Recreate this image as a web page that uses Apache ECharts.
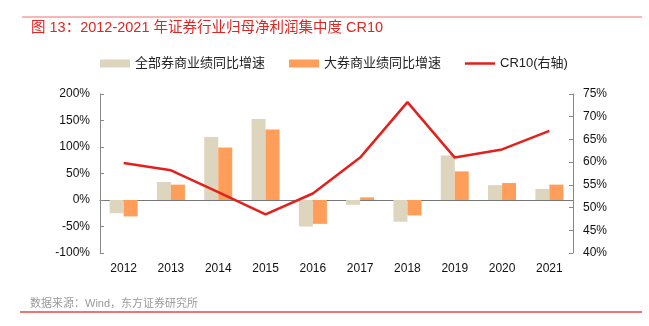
<!DOCTYPE html>
<html><head><meta charset="utf-8">
<script src="https://cdn.jsdelivr.net/npm/echarts@6/dist/echarts.min.js"></script>
<style>html,body{margin:0;padding:0;background:#fff}#c{width:649px;height:326px}</style>
</head><body><div id="c"></div>
<script>
const categories = ['2012','2013','2014','2015','2016','2017','2018','2019','2020','2021'];
const allBrokers = [-25, 34, 119, 153, -50, -9, -41, 84, 28, 21];
const bigBrokers = [-31, 29, 99, 133, -45, 5, -29, 54, 32, 29];
const cr10 = [59.8, 58.2, 53.4, 48.5, 53.1, 61.0, 73.2, 61.0, 62.8, 66.9];
const leftTicks = [-100, 200, 50];
const rightTicks = [40, 75, 5];

const font = '"Liberation Sans", Arial, "Noto Sans CJK SC", sans-serif';
const chart = echarts.init(document.getElementById('c'));
chart.setOption({
  animation: false,
  textStyle: { fontFamily: font },
  graphic: [
    { type: 'line', shape: { x1: 22, y1: 17, x2: 642, y2: 17 }, style: { stroke: '#f07070', lineWidth: 1 } },
    { type: 'text', left: 31, top: 21, style: { text: '图 13：2012-2021 年证券行业归母净利润集中度 CR10', fill: '#e3231f', font: '14.5px ' + font } },
    { type: 'text', left: 30, top: 298, style: { text: '数据来源：Wind，东方证券研究所', fill: '#9a9a9a', font: '11px ' + font } },
    { type: 'line', shape: { x1: 20, y1: 312, x2: 642, y2: 312 }, style: { stroke: '#e84545', lineWidth: 1.5 } }
  ],
  legend: {
    left: 95, top: 52, itemWidth: 30, itemHeight: 8, itemGap: 24,
    textStyle: { fontSize: 13, color: '#222', fontFamily: font },
    data: [
      { name: '全部券商业绩同比增速', icon: 'rect' },
      { name: '大券商业绩同比增速', icon: 'rect' },
      { name: 'CR10(右轴)', icon: 'path://M0,0 L30,0 L30,2.5 L0,2.5 Z', itemStyle: { color: '#e3211c' } }
    ]
  },
  grid: { left: 100, right: 76, top: 94, bottom: 73 },
  xAxis: [
    {
      type: 'category', data: categories,
      axisLine: { onZero: true, lineStyle: { color: '#777' } },
      axisTick: { inside: true, length: 4, lineStyle: { color: '#777' } },
      axisLabel: { show: false }
    },
    {
      type: 'category', data: categories, position: 'bottom',
      axisLine: { show: false }, axisTick: { show: false },
      axisLabel: { color: '#111', fontSize: 12, margin: 10 }
    }
  ],
  yAxis: [
    {
      type: 'value', min: leftTicks[0], max: leftTicks[1], interval: leftTicks[2],
      axisLine: { show: true, lineStyle: { color: '#888' } },
      axisTick: { show: true, inside: true, length: 4, lineStyle: { color: '#888' } },
      splitLine: { show: false },
      axisLabel: { color: '#111', fontSize: 12, margin: 10, formatter: v => v + '%' }
    },
    {
      type: 'value', min: rightTicks[0], max: rightTicks[1], interval: rightTicks[2],
      axisLine: { show: true, lineStyle: { color: '#888' } },
      axisTick: { show: true, inside: true, length: 4, lineStyle: { color: '#888' } },
      splitLine: { show: false },
      axisLabel: { color: '#111', fontSize: 12, margin: 10, formatter: v => v + '%' }
    }
  ],
  series: [
    { name: '全部券商业绩同比增速', type: 'bar', data: allBrokers, barWidth: 14, barGap: '0%', itemStyle: { color: '#ddd5bd' } },
    { name: '大券商业绩同比增速', type: 'bar', data: bigBrokers, barWidth: 14, barGap: '0%', itemStyle: { color: '#ff9e5a' } },
    { name: 'CR10(右轴)', type: 'line', yAxisIndex: 1, data: cr10, symbol: 'none', lineStyle: { color: '#e3211c', width: 2.5 }, itemStyle: { color: '#e3211c' } }
  ]
});
</script></body></html>
